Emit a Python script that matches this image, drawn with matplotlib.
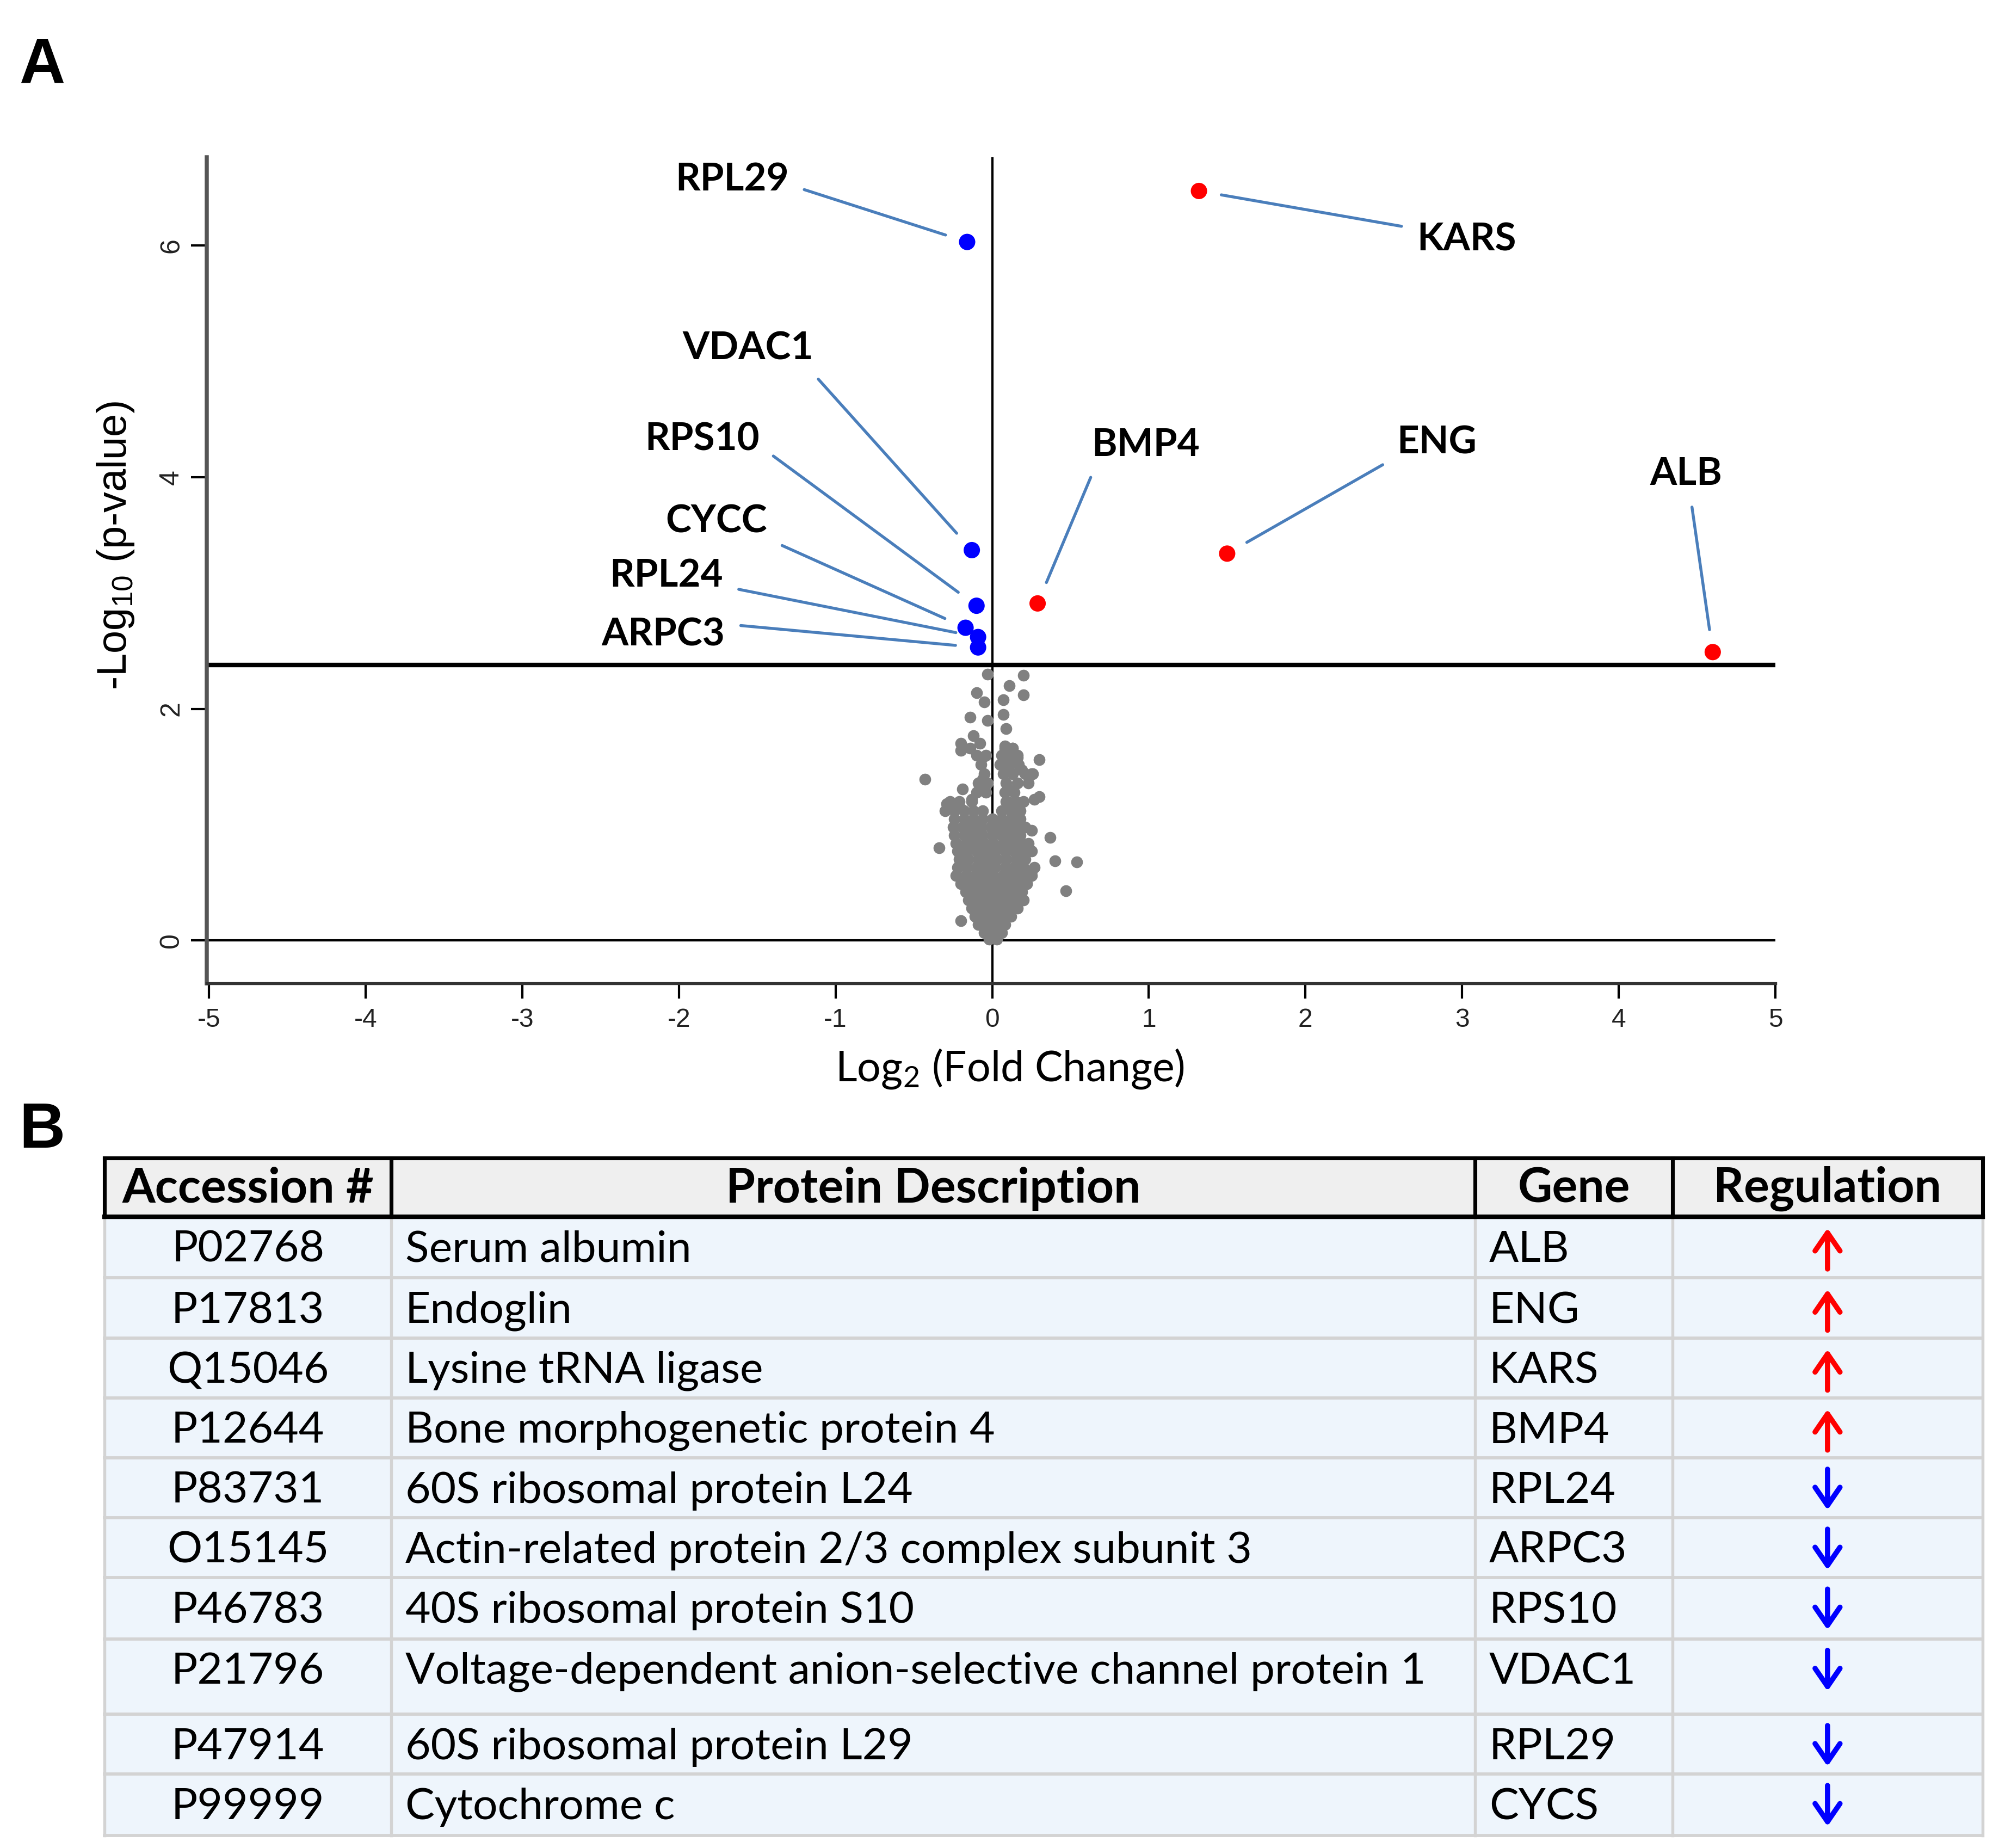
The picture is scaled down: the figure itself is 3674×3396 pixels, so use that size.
import matplotlib.pyplot as plt
from matplotlib import font_manager

plt.rcParams['mathtext.default'] = 'regular'
plt.rcParams['axes.unicode_minus'] = False

# ---- panel A: highlighted proteins ----
gene_labels = ["RPL29", "KARS", "VDAC1", "RPS10", "BMP4", "ENG", "ALB", "CYCC", "RPL24", "ARPC3"]
gene_fc = [-0.16, 1.32, -0.13, -0.10, 0.29, 1.50, 4.60, -0.17, -0.09, -0.09]
gene_logp = [6.03, 6.47, 3.37, 2.89, 2.91, 3.34, 2.49, 2.70, 2.62, 2.53]
gene_up = [False, True, False, False, True, True, True, False, False, False]

# where the gene names sit, and which corner of the name the leader leaves from
label_xy = [(-1.66, 6.57), (3.03, 6.05), (-1.56, 5.11), (-1.85, 4.33), (0.98, 4.28),
            (2.84, 4.30), (4.43, 4.03), (-1.76, 3.62), (-2.08, 3.15), (-2.10, 2.64)]
label_relpos = [(1.0, 0.35), (0.0, 0.8), (0.95, 0.0), (1.0, 0.3), (0.05, 0.0),
                (0.0, 0.1), (0.55, 0.0), (1.0, 0.0), (1.0, 0.2), (1.0, 0.8)]

threshold = 2.38

# ---- panel A: background proteins (grey cloud), (log2 FC, -log10 p) ----
gray_pts = [
    # sparse points above the dense core
    (-0.03, 2.30), (0.20, 2.29), (0.11, 2.20), (-0.10, 2.14), (0.20, 2.12),
    (0.07, 2.08), (-0.05, 2.06), (0.07, 1.95), (-0.14, 1.93), (-0.03, 1.90),
    (0.09, 1.83), (-0.12, 1.77), (-0.08, 1.70), (-0.20, 1.70), (-0.20, 1.64),
    (0.08, 1.68), (0.13, 1.66), (-0.06, 1.58), (0.16, 1.58), (0.30, 1.56),
    (0.08, 1.55), (-0.43, 1.39), (-0.06, 1.39), (0.10, 1.46), (0.25, 1.44),
    (-0.19, 1.31), (-0.06, 1.33), (0.11, 1.30), (0.27, 1.22), (0.30, 1.24),
    (-0.29, 1.18), (-0.13, 1.22), (0.11, 1.19), (-0.20, 1.14), (0.14, 1.10),
    (0.25, 0.95), (0.37, 0.89), (-0.34, 0.80), (0.40, 0.69), (0.54, 0.68),
    (0.47, 0.43), (-0.20, 0.17), (0.25, 0.60), (0.22, 0.49), (0.19, 1.47),
    # middle band
    (-0.30, 1.12), (-0.24, 1.12), (-0.18, 1.12), (-0.12, 1.12), (-0.06, 1.12),
    (0.06, 1.12), (0.12, 1.12), (0.18, 1.12),
    (-0.27, 1.20), (-0.21, 1.20), (-0.13, 1.20), (0.09, 1.20), (0.15, 1.20), (0.20, 1.20),
    (-0.10, 1.28), (-0.04, 1.28), (0.08, 1.28), (0.14, 1.28),
    (-0.09, 1.36), (-0.03, 1.36), (0.09, 1.36), (0.16, 1.36), (0.23, 1.36),
    (-0.05, 1.44), (0.07, 1.44), (0.13, 1.44), (0.21, 1.44), (0.26, 1.44),
    (-0.07, 1.52), (0.05, 1.52), (0.11, 1.52), (0.17, 1.52),
    (-0.10, 1.60), (-0.04, 1.60), (0.06, 1.60), (0.12, 1.60), (0.16, 1.60),
    (-0.19, 1.66), (-0.14, 1.66), (0.08, 1.66), (0.13, 1.66),
    # dense core
    (-0.24, 1.05), (-0.18, 1.05), (-0.12, 1.05), (-0.06, 1.05), (0.00, 1.05),
    (0.06, 1.05), (0.12, 1.05), (0.18, 1.05),
    (-0.25, 0.98), (-0.19, 0.98), (-0.13, 0.98), (-0.07, 0.98), (-0.01, 0.98),
    (0.05, 0.98), (0.11, 0.98), (0.17, 0.98), (0.21, 0.98),
    (-0.24, 0.91), (-0.18, 0.91), (-0.12, 0.91), (-0.06, 0.91), (0.00, 0.91),
    (0.06, 0.91), (0.12, 0.91), (0.18, 0.91),
    (-0.23, 0.84), (-0.17, 0.84), (-0.11, 0.84), (-0.05, 0.84), (0.01, 0.84),
    (0.07, 0.84), (0.13, 0.84), (0.19, 0.84), (0.23, 0.84),
    (-0.22, 0.77), (-0.16, 0.77), (-0.10, 0.77), (-0.04, 0.77), (0.02, 0.77),
    (0.08, 0.77), (0.14, 0.77), (0.20, 0.77), (0.25, 0.77),
    (-0.21, 0.70), (-0.15, 0.70), (-0.09, 0.70), (-0.03, 0.70), (0.03, 0.70),
    (0.09, 0.70), (0.15, 0.70), (0.21, 0.70),
    (-0.22, 0.63), (-0.16, 0.63), (-0.10, 0.63), (-0.04, 0.63), (0.02, 0.63),
    (0.08, 0.63), (0.14, 0.63), (0.20, 0.63), (0.27, 0.63),
    (-0.23, 0.56), (-0.17, 0.56), (-0.11, 0.56), (-0.05, 0.56), (0.01, 0.56),
    (0.07, 0.56), (0.13, 0.56), (0.19, 0.56), (0.25, 0.56),
    (-0.20, 0.49), (-0.14, 0.49), (-0.08, 0.49), (-0.02, 0.49), (0.04, 0.49),
    (0.10, 0.49), (0.16, 0.49), (0.22, 0.49),
    (-0.17, 0.42), (-0.11, 0.42), (-0.05, 0.42), (0.01, 0.42), (0.07, 0.42),
    (0.13, 0.42), (0.19, 0.42),
    (-0.15, 0.35), (-0.09, 0.35), (-0.03, 0.35), (0.03, 0.35), (0.09, 0.35),
    (0.15, 0.35), (0.20, 0.35),
    (-0.13, 0.28), (-0.07, 0.28), (-0.01, 0.28), (0.05, 0.28), (0.11, 0.28), (0.16, 0.28),
    (-0.11, 0.21), (-0.05, 0.21), (0.01, 0.21), (0.07, 0.21), (0.12, 0.21),
    (-0.09, 0.14), (-0.03, 0.14), (0.03, 0.14), (0.08, 0.14),
    (-0.05, 0.07), (0.01, 0.07), (0.06, 0.07),
    (-0.02, 0.01), (0.03, 0.01),
]

x_ticks = [-5, -4, -3, -2, -1, 0, 1, 2, 3, 4, 5]
y_ticks = [0, 2, 4, 6]

# ---- panel B: table ----
col_headers = ["Accession #", "Protein Description", "Gene", "Regulation"]
accession = ["P02768", "P17813", "Q15046", "P12644", "P83731",
             "O15145", "P46783", "P21796", "P47914", "P99999"]
description = ["Serum albumin", "Endoglin", "Lysine tRNA ligase",
               "Bone morphogenetic protein 4", "60S ribosomal protein L24",
               "Actin-related protein 2/3 complex subunit 3",
               "40S ribosomal protein S10",
               "Voltage-dependent anion-selective channel protein 1",
               "60S ribosomal protein L29", "Cytochrome c"]
table_gene = ["ALB", "ENG", "KARS", "BMP4", "RPL24", "ARPC3", "RPS10", "VDAC1", "RPL29", "CYCS"]
regulation = ["up", "up", "up", "up", "down", "down", "down", "down", "down", "down"]


installed = {f.name for f in font_manager.fontManager.ttflist}
tick_font = ['Liberation Sans Narrow', 'Liberation Sans', 'DejaVu Sans']
tick_font = [f for f in tick_font if f in installed] or ['DejaVu Sans']

W, H = 1568, 1449
fig = plt.figure(figsize=(3674 / 300, 3396 / 300), dpi=300)

# layout axes in (shrunk) pixel units for the table and free text
lay = fig.add_axes([0, 0, 1, 1])
lay.set_xlim(0, W)
lay.set_ylim(H, 0)
lay.axis('off')

ax = fig.add_axes([0.10344, 0.46797, 0.7847, 0.44687])
ax.set_xlim(-5.014, 5.0)
ax.set_ylim(-0.368, 6.76)
ax.spines['top'].set_visible(False)
ax.spines['right'].set_visible(False)
ax.spines['left'].set_color('#555555')
ax.spines['left'].set_linewidth(1.8)
ax.spines['bottom'].set_color('#333333')
ax.spines['bottom'].set_linewidth(1.3)
ax.set_xticks(x_ticks)
ax.set_yticks(y_ticks)
ax.tick_params(axis='x', length=6.8, width=1.0, pad=4, labelsize=11.5)
ax.tick_params(axis='y', length=7, width=1.0, pad=3, labelsize=12, labelrotation=90)
for lab in ax.get_xticklabels() + ax.get_yticklabels():
    lab.set_family(tick_font)
    lab.set_color('#222222')
for lab in ax.get_yticklabels():
    lab.set_va('center')

ax.axhline(0, color='black', lw=1.0, zorder=1)
ax.axhline(threshold, color='black', lw=2.0, zorder=1)
ax.axvline(0, color='black', lw=1.0, zorder=1)

gx, gy = zip(*gray_pts)
ax.scatter(gx, gy, s=27, color='#808080', linewidths=0, zorder=2)
colors = ['#ff0000' if u else '#0000ff' for u in gene_up]
ax.scatter(gene_fc, gene_logp, s=52, c=colors, linewidths=0, zorder=3)

for name, fc, lp, xy, rp in zip(gene_labels, gene_fc, gene_logp, label_xy, label_relpos):
    ax.annotate(name, xy=(fc, lp), xytext=xy, ha='center', va='center',
                fontsize=17, fontweight='bold', family=['Lato', 'DejaVu Sans'],
                arrowprops=dict(arrowstyle='-', color='#4a7ebb', lw=1.3,
                                shrinkA=5, shrinkB=10, relpos=rp),
                zorder=4)

lay.text(90.5, 428, '-Log$_{10}$ (p-value)', rotation=90, ha='center', va='center',
         fontsize=18.2, family=['Liberation Sans', 'DejaVu Sans'])
lay.text(792, 838, 'Log$_2$ (Fold Change)', ha='center', va='center',
         fontsize=18.5, family=['Lato', 'DejaVu Sans'])

# panel letters
lay.text(33, 52, 'A', ha='center', va='center', fontsize=28, fontweight='bold',
         family=['Liberation Sans', 'DejaVu Sans'])
lay.text(33, 887, 'B', ha='center', va='center', fontsize=28, fontweight='bold',
         family=['Liberation Sans', 'DejaVu Sans'])

# ---- table drawing ----
col_edges = [82, 307, 1157, 1312, 1555]
head_top, head_bot = 908, 954
row_edges = [954, 1002, 1049, 1096, 1143, 1190, 1237, 1285, 1344, 1391, 1439]
body_fill = '#eef5fc'
sep_color = '#d3d3d3'

lay.fill_between([col_edges[0], col_edges[-1]], head_top, head_bot, color='#efefef', lw=0)
lay.fill_between([col_edges[0], col_edges[-1]], row_edges[0], row_edges[-1], color=body_fill, lw=0)

for r in row_edges[1:]:
    lay.plot([col_edges[0], col_edges[-1]], [r, r], color=sep_color, lw=1.4)
for c in col_edges:
    lay.plot([c, c], [row_edges[0], row_edges[-1]], color=sep_color, lw=1.3)
# header frame
lay.plot([col_edges[0], col_edges[-1]], [head_top, head_top], color='black', lw=1.7)
lay.plot([col_edges[0], col_edges[-1]], [head_bot, head_bot], color='black', lw=2.0)
for c in col_edges:
    lay.plot([c, c], [head_top, head_bot], color='black', lw=1.7)

txt_font = ['Lato', 'DejaVu Sans']
for i, h in enumerate(col_headers):
    lay.text((col_edges[i] + col_edges[i + 1]) / 2, (head_top + head_bot) / 2 + 1, h,
             ha='center', va='center', fontsize=21, fontweight='bold', family=txt_font)

for i in range(len(accession)):
    yc = row_edges[i] + 26
    lay.text((col_edges[0] + col_edges[1]) / 2, yc, accession[i], ha='center', va='center',
             fontsize=19.3, family=txt_font)
    lay.text(col_edges[1] + 11, yc, description[i], ha='left', va='center',
             fontsize=19.3, family=txt_font)
    lay.text(col_edges[2] + 11, yc, table_gene[i], ha='left', va='center',
             fontsize=19.3, family=txt_font)
    xc = (col_edges[3] + col_edges[4]) / 2
    top, bot = row_edges[i] + 9, row_edges[i] + 41
    if regulation[i] == 'up':
        tail, tip, col = (xc, bot), (xc, top), '#ff0000'
    else:
        tail, tip, col = (xc, top), (xc, bot), '#0000ff'
    lay.annotate('', xy=tip, xytext=tail,
                 arrowprops=dict(arrowstyle='->, head_length=0.8, head_width=0.55',
                                 color=col, lw=2.3, shrinkA=0, shrinkB=0))

fig.savefig('out.png', dpi=300)
